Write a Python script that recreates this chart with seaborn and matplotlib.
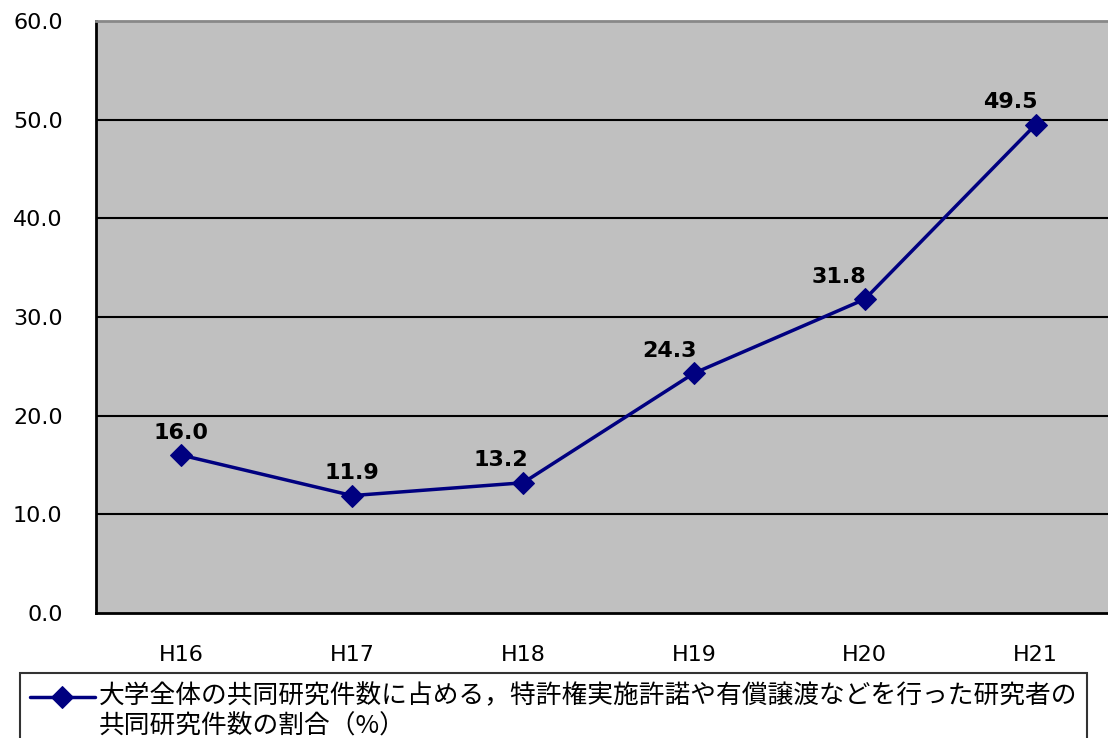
import matplotlib
matplotlib.use("Agg")
import matplotlib.pyplot as plt
import seaborn as sns
import pandas as pd
import numpy as np
from matplotlib.ticker import FixedLocator

years = ["H16", "H17", "H18", "H19", "H20", "H21"]
ratio = [16.0, 11.9, 13.2, 24.3, 31.8, 49.5]
series_label = ("大学全体の共同研究件数に占める，特許権実施許諾や有償譲渡などを行った研究者の\n"
                "共同研究件数の割合（%）")
y_ticks = [0, 10, 20, 30, 40, 50, 60]

df = pd.DataFrame({"year": years, "ratio": ratio})
df["pos"] = range(len(df))

sns.set_style("white")
plt.rcParams["font.family"] = ["DejaVu Sans", "Noto Sans CJK JP"]

fig = plt.figure(figsize=(11.08, 7.38), dpi=100)
ax = fig.add_axes([96 / 1108, 125 / 738, 1025 / 1108, 592 / 738])
ax.set_facecolor("#c0c0c0")

sns.lineplot(data=df, x="pos", y="ratio", ax=ax, color="#000080", linewidth=2.5,
             marker="D", markersize=11, markeredgecolor="#000080",
             label=series_label, legend=False)

ax.set_xlim(-0.5, 5.5)
ax.set_ylim(0, 60)
ax.set_yticks(y_ticks)
ax.set_yticklabels([f"{v:.1f}" for v in y_ticks], fontsize=16, color="black")
for v in y_ticks[1:-1]:
    ax.axhline(v, color="black", linewidth=1.5, zorder=1)

ax.set_xticks(df["pos"])
ax.set_xticklabels(years, fontsize=16, color="black")
ax.xaxis.set_minor_locator(FixedLocator([p + 0.5 for p in df["pos"][:-1]]))
ax.tick_params(axis="x", which="major", length=0, pad=23)
ax.tick_params(axis="x", which="minor", direction="in", length=8, width=1.2, color="black")
ax.tick_params(axis="y", which="major", direction="in", length=8, width=1.2, color="black", pad=24)
ax.set_xlabel("")
ax.set_ylabel("")

for side in ["left", "bottom"]:
    ax.spines[side].set_color("black")
    ax.spines[side].set_linewidth(2)
ax.spines["top"].set_color("#888888")
ax.spines["top"].set_linewidth(2)
ax.spines["right"].set_visible(False)

# value labels above markers
label_dx = [0, 0, -0.13, -0.14, -0.15, -0.15]
for i, (p, v) in enumerate(zip(df["pos"], df["ratio"])):
    ax.annotate(f"{v:.1f}", (p + label_dx[i], v), xytext=(0, 9), textcoords="offset points",
                ha="center", va="bottom", fontsize=16, fontweight="bold", color="black")

handles, labels = ax.get_legend_handles_labels()
leg = fig.legend(handles, labels, loc="upper left", bbox_to_anchor=(20 / 1108, 1 - 673 / 738),
                 frameon=True, fancybox=False, fontsize=18.5, handlelength=2.5,
                 borderpad=0.4, labelspacing=0.2, handletextpad=0.15, borderaxespad=0)
leg.get_frame().set_edgecolor("black")
leg.get_frame().set_linewidth(1.5)
for t in leg.get_texts():
    t.set_family(["Noto Sans CJK JP", "DejaVu Sans"])
    t.set_linespacing(1.2)
    t.set_color("black")
# put the legend marker next to the first text line, as in the original
for h in leg.legend_handles:
    h.set_ydata(np.asarray(h.get_ydata()) + 11)

fig.savefig("out.png", dpi=100)
